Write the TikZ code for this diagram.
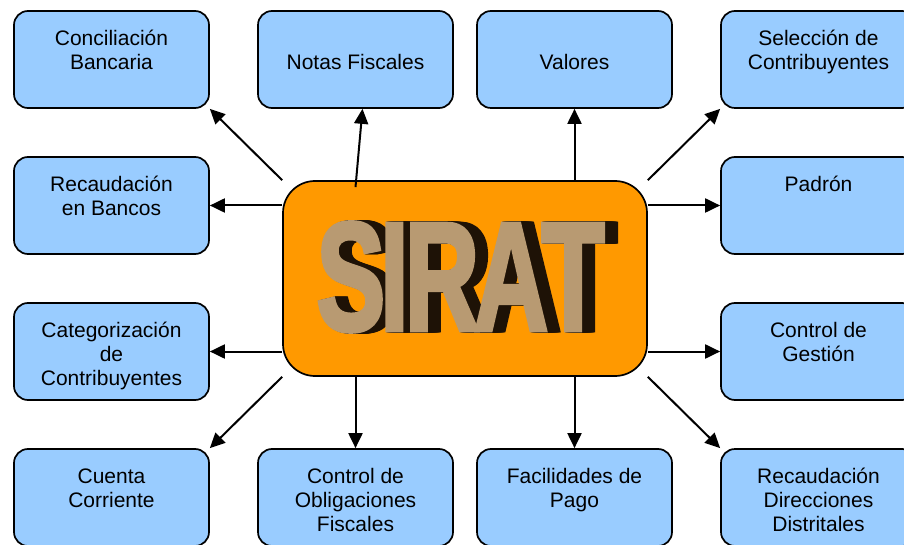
\documentclass[tikz,border=0pt]{standalone}
\usepackage{fontspec}
\setmainfont{Liberation Sans}
\newfontfamily\gordo[FakeBold=3]{Liberation Sans Bold}
\usetikzlibrary{arrows.meta,calc}
\definecolor{azulcaja}{HTML}{99CCFF}
\definecolor{naranja}{HTML}{FF9900}
\definecolor{sombra}{HTML}{1E1206}
\definecolor{arena}{HTML}{B89A72}
\newcommand{\caja}[2][34.5pt]{\parbox[c][97pt][t]{195pt}{\centering\rule{0pt}{#1}#2}}
\newcommand{\letras}{\scalebox{0.67}[1]{\fontsize{154}{154}\selectfont\gordo S\kern-8pt I\kern-6pt R\kern-8pt A\kern-10pt T}}
\begin{document}
\begin{tikzpicture}[x=1pt,y=1pt,
	caja/.style={draw,line width=1.7pt,fill=azulcaja,rounded corners=14pt,inner sep=0pt,
		font=\fontsize{21}{24}\selectfont},
	flecha/.style={line width=2pt,-{Triangle[length=15pt,width=14pt]}}]
		\useasboundingbox (0,0) rectangle (904,544);
		% central
		\node[draw,line width=1.7pt,fill=naranja,rounded corners=32pt,minimum width=364pt,minimum height=195pt] (sirat) at (465,265.5){};
		\foreach \s in {1,...,13}{
			\node[sombra,inner sep=0pt,anchor=base] (sombra\s) at (460.5+\s,214){\letras};
			}
		\node[arena,inner sep=0pt,anchor=base] (titulo) at (460.5,214){\letras};
		% fila 1
		\node[caja] (conc) at (111.5,484.5){\caja{Conciliación\\Bancaria}};
		\node[caja] (notas) at (355.5,484.5){\caja[58.5pt]{Notas Fiscales}};
		\node[caja] (valores) at (574.5,484.5){\caja[58.5pt]{Valores}};
		\node[caja] (selec) at (818.5,484.5){\caja{Selección de\\Contribuyentes}};
		% filas 2 y 3
		\node[caja] (bancos) at (111.5,338.5){\caja{Recaudación\\en Bancos}};
		\node[caja] (padron) at (818.5,338.5){\caja{Padrón}};
		\node[caja] (categ) at (111.5,192.5){\caja{Categorización\\de\\Contribuyentes}};
		\node[caja] (gestion) at (818.5,192.5){\caja{Control de\\Gestión}};
		% fila 4
		\node[caja] (cuenta) at (111.5,46.5){\caja{Cuenta\\Corriente}};
		\node[caja] (oblig) at (355.5,46.5){\caja{Control de\\Obligaciones\\Fiscales}};
		\node[caja] (facil) at (574.5,46.5){\caja{Facilidades de\\Pago}};
		\node[caja] (distr) at (818.5,46.5){\caja{Recaudación\\Direcciones\\Distritales}};
		\draw[flecha] (sirat.north west)--(conc.south east);
		\draw[flecha] ($(sirat.north -| notas.south)+(0,-7)$)--([xshift=7pt]notas.south);
		\draw[flecha] (sirat.north -| valores.south)--(valores.south);
		\draw[flecha] (sirat.north east)--(selec.south west);
		\draw[flecha] (sirat.west |- bancos.east)--(bancos.east);
		\draw[flecha] (sirat.east |- padron.west)--(padron.west);
		\draw[flecha] (sirat.west |- categ.east)--(categ.east);
		\draw[flecha] (sirat.east |- gestion.west)--(gestion.west);
		\draw[flecha] (sirat.south west)--(cuenta.north east);
		\draw[flecha] (sirat.south -| oblig.north)--(oblig.north);
		\draw[flecha] (sirat.south -| facil.north)--(facil.north);
		\draw[flecha] (sirat.south east)--(distr.north west);
		\end{tikzpicture}
\end{document}
